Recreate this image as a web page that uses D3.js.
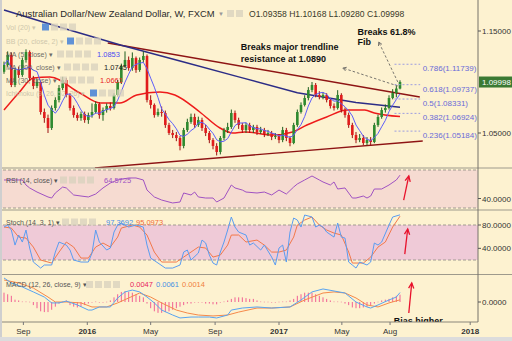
<!DOCTYPE html>
<html>
<head>
<meta charset="utf-8">
<script src="https://cdn.jsdelivr.net/npm/d3@7"></script>
<style>
  body { margin: 0; background: #fdf2d0; }
  svg { display: block; font-family: "Liberation Sans", Arial, sans-serif; }
</style>
</head>
<body>
<div id="chart"></div>
<script>
// ---- data ----
const firstWeek = new Date(2015, 6, 26);
const firstOpen = 1.1100;
const closes = [1.1167,1.1265,1.0971,1.1118,1.1069,1.1216,1.1294,1.1039,1.0961,1.1000,
  1.0706,1.0647,1.0549,1.0745,1.0824,1.0941,1.1020,1.0873,1.0745,1.0676,
  1.0647,1.0686,1.0627,1.0676,1.0706,1.0784,1.0676,1.0725,1.0765,1.0745,
  1.0873,1.1000,1.1157,1.1216,1.1137,1.1235,1.1118,1.1216,1.1255,1.0824,
  1.0775,1.0676,1.0706,1.0696,1.0578,1.0500,1.0480,1.0451,1.0373,1.0529,
  1.0608,1.0657,1.0578,1.0627,1.0549,1.0500,1.0431,1.0373,1.0314,1.0451,
  1.0529,1.0559,1.0696,1.0627,1.0578,1.0529,1.0578,1.0529,1.0559,1.0510,
  1.0529,1.0490,1.0500,1.0461,1.0471,1.0431,1.0529,1.0451,1.0402,1.0578,
  1.0706,1.0775,1.0843,1.0922,1.0971,1.0873,1.0853,1.0873,1.0824,1.0765,
  1.0745,1.0873,1.0725,1.0676,1.0578,1.0480,1.0431,1.0451,1.0402,1.0431,
  1.0412,1.0578,1.0657,1.0725,1.0745,1.0843,1.0892,1.09358,1.09998];
const highs = [1.1200,1.1300,1.1290,1.1140,1.1150,1.1240,1.1320,1.1310,1.1060,1.1030,
  1.1010,1.0740,1.0680,1.0770,1.0850,1.0970,1.1050,1.1040,1.0890,1.0770,
  1.0700,1.0710,1.0710,1.0700,1.0790,1.0810,1.0800,1.0750,1.0790,1.0800,
  1.0890,1.1020,1.1180,1.1300,1.1250,1.1290,1.1250,1.1240,1.1300,1.1270,
  1.0870,1.0790,1.0740,1.0760,1.0720,1.0600,1.0530,1.0510,1.0470,1.0550,
  1.0640,1.0690,1.0690,1.0660,1.0650,1.0580,1.0520,1.0450,1.0400,1.0470,
  1.0550,1.0600,1.0730,1.0720,1.0650,1.0600,1.0600,1.0600,1.0580,1.0580,
  1.0560,1.0550,1.0530,1.0520,1.0500,1.0490,1.0560,1.0550,1.0470,1.0600,
  1.0730,1.0800,1.0870,1.0950,1.1000,1.0990,1.0910,1.0900,1.0890,1.0840,
  1.0790,1.0920,1.0890,1.0750,1.0700,1.0600,1.0510,1.0490,1.0480,1.0460,
  1.0460,1.0600,1.0680,1.0750,1.0780,1.0870,1.0930,1.0960,1.10168];
const lows = [1.1080,1.1150,1.0950,1.0950,1.1040,1.1050,1.1190,1.1010,1.0930,1.0940,
  1.0680,1.0600,1.0500,1.0530,1.0720,1.0800,1.0920,1.0850,1.0720,1.0650,
  1.0620,1.0620,1.0600,1.0590,1.0650,1.0690,1.0640,1.0620,1.0700,1.0720,
  1.0730,1.0860,1.0980,1.1140,1.1110,1.1110,1.1090,1.1100,1.1190,1.0800,
  1.0740,1.0650,1.0660,1.0660,1.0550,1.0480,1.0450,1.0420,1.0330,1.0350,
  1.0510,1.0590,1.0550,1.0560,1.0520,1.0470,1.0400,1.0340,1.0280,1.0290,
  1.0430,1.0500,1.0540,1.0600,1.0540,1.0500,1.0500,1.0500,1.0500,1.0480,
  1.0490,1.0460,1.0470,1.0430,1.0440,1.0400,1.0410,1.0420,1.0370,1.0390,
  1.0560,1.0690,1.0760,1.0820,1.0900,1.0850,1.0830,1.0830,1.0800,1.0740,
  1.0720,1.0730,1.0700,1.0650,1.0550,1.0450,1.0400,1.0410,1.0380,1.0380,
  1.0380,1.0400,1.0560,1.0640,1.0700,1.0730,1.0830,1.0850,1.09280];

// moving averages read as [week index, value]
const ma200 = [[0,1.1706],[16,1.1530],[32,1.1360],[48,1.1206],[64,1.1050],[80,1.0895],[96,1.0800],[108,1.0752]];
const ma30 = [[0,1.0725],[4,1.0892],[8,1.1039],[12.5,1.1049],[20.7,1.0892],[26.2,1.0794],[31.6,1.0794],
  [36.2,1.0873],[42.5,1.0902],[46.6,1.0873],[53.4,1.0706],[58.9,1.0549],[62.4,1.0500],[65.7,1.0510],
  [73.3,1.0480],[78.7,1.0510],[82.6,1.0578],[88,1.0657],[93.5,1.0725],[98.4,1.0725],[101,1.0696],[108,1.0661]];

const rsi = [[0,59.5],[2,59.5],[5,59.5],[6,54.2],[7,51.1],[9,46.8],[12,41.6],[13,40.5],[14,45.8],[16,52.1],
  [17,51.1],[19,43.7],[21,42.6],[23,41.6],[25,44.7],[27,51.1],[29,56.3],[31,59.5],[34,61.6],[36,61.6],
  [38,59.5],[39,48.9],[41,41.6],[43,38.4],[45,36.3],[46,35.3],[48,36.3],[49,45.8],[51,43.7],[52,46.8],
  [53,41.6],[55,40.5],[57,40.5],[58,36.3],[60,40.5],[62,54.2],[63,51.1],[65,48.9],[66,46.8],[69,45.8],
  [71,46.8],[73,43.7],[75,48.9],[77,44.7],[79,52.1],[80,55.3],[82,59.5],[84,63.7],[86,59.5],[87,57.4],
  [89,54.2],[90,57.4],[91,50.0],[93,51.1],[95,40.5],[96,40.5],[98,42.6],[99,40.5],[100,42.6],[101,50.0],
  [103,50.0],[105,54.2],[107,59.5],[108,64.57]];

const stochK = [[0,76.5],[1,79.9],[2,71.4],[3,45.6],[4,62.8],[5,50.8],[6,71.4],[7,40.5],[8,16.5],[9,11.4],
  [10,6.2],[11,11.4],[13,11.4],[14,33.6],[15,50.8],[17,45.6],[18,37.1],[19,19.9],[21,16.5],[23,16.5],
  [24,31.9],[25,71.4],[26,50.8],[28,37.1],[29,40.5],[30,67.9],[31,79.9],[32,83.4],[34,76.5],[36,79.9],
  [38,76.5],[39,45.6],[40,23.3],[42,14.8],[44,6.2],[46,6.2],[48,11.4],[49,33.6],[50,37.1],[51,19.9],
  [53,31.9],[54,54.2],[55,49.1],[56,28.5],[57,14.8],[58,11.4],[59,33.6],[60,50.8],[61,71.4],[62,93.7],
  [63,76.5],[64,67.9],[66,62.8],[67,45.6],[68,49.1],[70,37.1],[71,45.6],[73,25.0],[74,11.4],[75,40.5],
  [76,45.6],[77,16.5],[78,67.9],[79,91.9],[80,88.5],[81,76.5],[82,97.1],[84,93.7],[85,76.5],[86,79.9],
  [87,76.5],[88,67.9],[90,59.3],[91,83.4],[92,59.3],[93,57.6],[94,16.5],[95,11.4],[96,6.2],[97,16.5],
  [99,11.4],[100,16.5],[101,49.1],[102,45.6],[103,50.8],[105,79.9],[106,93.7],[108,97.37]];
const stochD = [[0,76.5],[2,74.8],[4,59.3],[6,57.6],[8,42.2],[10,19.9],[13,14.8],[15,33.6],[17,50.8],[19,42.2],
  [21,23.3],[23,23.3],[25,42.2],[27,49.1],[29,42.2],[31,59.3],[32,74.8],[35,79.9],[37,76.5],[39,62.8],
  [41,33.6],[43,16.5],[47,16.5],[49,25.0],[51,33.6],[53,42.2],[55,40.5],[57,25.0],[59,28.5],[61,45.6],
  [62,62.8],[64,62.8],[66,50.8],[69,54.2],[71,45.6],[73,33.6],[75,33.6],[77,37.1],[79,59.3],[80,79.9],
  [82,88.5],[84,93.7],[86,79.9],[88,71.4],[90,66.2],[92,62.8],[94,33.6],[95,14.8],[98,14.8],[100,25.0],
  [102,42.2],[104,50.8],[106,76.5],[108,95.10]];

const macdLine = [[0,0.0155],[2,0.0123],[5,0.0097],[8,0.0065],[11,0.0032],[13,-0.0006],[15,-0.0006],[17,0.0006],
  [20,-0.0019],[23,-0.0052],[24,-0.0052],[26,-0.0032],[29,-0.0032],[31,0.0026],[33,0.0065],[35,0.0077],
  [37,0.0065],[39,0.0032],[41,-0.0006],[43,-0.0052],[46,-0.0084],[48,-0.0103],[51,-0.0097],[53,-0.0097],
  [56,-0.0097],[58,-0.0103],[61,-0.0084],[62,-0.0052],[65,-0.0039],[69,-0.0032],[73,-0.0039],[78,-0.0032],
  [81,0.0013],[84,0.0065],[87,0.0084],[90,0.0071],[93,0.0058],[96,0.0000],[99,-0.0032],[100,-0.0039],
  [102,-0.0019],[105,0.0013],[107,0.0032],[108,0.0061]];
const macdSignal = [[0,0.0142],[4,0.0123],[8,0.0090],[12,0.0032],[14,0.0000],[17,0.0000],[21,-0.0006],[24,-0.0032],
  [28,-0.0032],[31,-0.0006],[34,0.0026],[37,0.0058],[40,0.0032],[43,-0.0006],[47,-0.0052],[50,-0.0071],
  [53,-0.0084],[57,-0.0090],[61,-0.0084],[64,-0.0065],[69,-0.0039],[73,-0.0039],[78,-0.0032],[82,0.0013],
  [87,0.0058],[90,0.0065],[93,0.0058],[96,0.0026],[99,-0.0019],[102,-0.0032],[105,-0.0006],[108,0.0014]];
const macdHist = [0.006,0.005,0.004,0.0015,0.001,0.0005,0.0005,0.0003,-0.002,-0.004,
  -0.006,-0.0065,-0.0065,-0.005,-0.003,-0.001,0.0003,0.001,-0.002,-0.003,
  -0.0035,-0.003,-0.002,-0.001,-0.0003,0.0005,-0.0003,-0.0005,0.0003,0.001,
  0.003,0.005,0.0065,0.007,0.0065,0.006,0.005,0.004,0.003,-0.001,
  -0.004,-0.006,-0.007,-0.007,-0.0065,-0.006,-0.005,-0.004,-0.003,-0.002,
  -0.001,-0.001,-0.0003,-0.0005,-0.0005,-0.001,-0.001,-0.0015,-0.0015,-0.0005,
  0.0005,0.001,0.002,0.003,0.003,0.003,0.0025,0.002,0.002,0.001,
  0.0005,0.0003,0.0003,-0.0005,-0.0003,0.0003,0.0005,0.0005,0.001,0.002,
  0.004,0.005,0.006,0.006,0.006,0.005,0.004,0.003,0.002,0.001,
  0.0005,0.0005,0.0003,-0.001,-0.002,-0.0035,-0.004,-0.004,-0.0035,-0.003,
  -0.002,-0.001,0.0003,0.001,0.0015,0.002,0.003,0.004,0.0047];

// trendlines: [week index, price]
const upperTrend = [[28.3,1.1382],[113.4,1.0853]];
const lowerTrend = [[24.8,1.0157],[114.2,1.0422]];

const fibRatios = ['0.786','0.618','0.5','0.382','0.236'];
const fibPrices = [1.11739,1.09737,1.08331,1.06924,1.05184];
const fibSpan = [106.5, 113.5];

const priceTicks = [1.15, 1.05];
const tickDates = [new Date(2015,8,1), new Date(2016,0,1), new Date(2016,4,1), new Date(2016,8,1),
  new Date(2017,0,1), new Date(2017,4,1), new Date(2017,7,1), new Date(2018,0,1)];
const tickLabels = ['Sep','2016','May','Sep','2017','May','Aug','2018'];

// ---- layout ----
const W = 512, H = 341, plotL = 3, plotR = 478;
const weekDate = i => new Date(firstWeek.getTime() + i * 7 * 864e5);
const x = d3.scaleTime().domain([firstWeek, weekDate(108)]).range([4, 400]);
const xi = i => x(weekDate(i));
const yMain = d3.scaleLinear().domain([1.05, 1.15]).range([133, 31]);
const yRsi = d3.scaleLinear().domain([30, 70]).range([208, 170]);
const yStoch = d3.scaleLinear().domain([20, 80]).range([260, 225]);
const yMacd = d3.scaleLinear().domain([0, 0.01]).range([302, 286.5]);

const svg = d3.select('#chart').append('svg').attr('width', W).attr('height', H);
svg.append('rect').attr('width', W).attr('height', H).attr('fill', '#fdf2d0');

const defs = svg.append('defs');
function clip(id, y0, y1) {
  defs.append('clipPath').attr('id', id).append('rect')
    .attr('x', plotL).attr('y', y0).attr('width', plotR - plotL).attr('height', y1 - y0);
  return svg.append('g').attr('clip-path', `url(#${id})`);
}

// panel backgrounds
svg.append('rect').attr('x', 0).attr('y', yRsi(70)).attr('width', plotR).attr('height', yRsi(30) - yRsi(70)).attr('fill', '#f6dbd1');
svg.append('rect').attr('x', 0).attr('y', yStoch(80)).attr('width', plotR).attr('height', yStoch(20) - yStoch(80)).attr('fill', '#efcad7');

// ---- main panel ----
const main = clip('cMain', 0, 168);
const line = d3.line().x(d => xi(d[0]));

// trendlines
[upperTrend, lowerTrend].forEach(t => {
  main.append('path').attr('d', line.y(d => yMain(d[1]))(t))
    .attr('fill', 'none').attr('stroke', '#8e1414').attr('stroke-width', 1.4);
});

// MA 200 and MA 30
main.append('path').attr('d', line.y(d => yMain(d[1]))(ma200))
  .attr('fill', 'none').attr('stroke', '#2c2c86').attr('stroke-width', 1.5);
main.append('path').attr('d', d3.line().x(d => xi(d[0])).y(d => yMain(d[1])).curve(d3.curveMonotoneX)(ma30))
  .attr('fill', 'none').attr('stroke', '#ee1b1b').attr('stroke-width', 1.5);

// candles
const candles = closes.map((c, i) => ({ i, o: i ? closes[i - 1] : firstOpen, c, h: highs[i], l: lows[i] }));
const cg = main.append('g');
cg.selectAll('line').data(candles).join('line')
  .attr('x1', d => xi(d.i)).attr('x2', d => xi(d.i))
  .attr('y1', d => yMain(d.h)).attr('y2', d => yMain(d.l))
  .attr('stroke', d => d.c >= d.o ? '#1e5e1e' : '#9c1010').attr('stroke-width', 1);
cg.selectAll('rect').data(candles).join('rect')
  .attr('x', d => xi(d.i) - 1.3).attr('width', 2.6)
  .attr('y', d => yMain(Math.max(d.o, d.c)))
  .attr('height', d => Math.max(1, Math.abs(yMain(d.o) - yMain(d.c))))
  .attr('fill', d => d.c >= d.o ? '#2f8a2f' : '#e01c1c');

// MA 5 from closes
const ma5 = closes.map((c, i) => [i, d3.mean(closes.slice(Math.max(0, i - 4), i + 1))]);
main.append('path').attr('d', line.y(d => yMain(d[1]))(ma5))
  .attr('fill', 'none').attr('stroke', '#5d5dfa').attr('stroke-width', 1);

// fib levels
fibPrices.forEach((p, k) => {
  main.append('line').attr('x1', xi(fibSpan[0])).attr('x2', xi(fibSpan[1]))
    .attr('y1', yMain(p)).attr('y2', yMain(p))
    .attr('stroke', '#9d9de0').attr('stroke-width', 1).attr('stroke-dasharray', '2,2');
  main.append('text').attr('x', xi(fibSpan[1]) + 2.5).attr('y', yMain(p) + 7)
    .attr('font-size', 8).attr('fill', '#6a6ad8')
    .text(`${fibRatios[k]}(${p.toFixed(5)})`);
});

// dashed annotation arrows
function dashedArrow(g, from, to, ys) {
  const x1 = xi(from[0]), y1 = ys(from[1]), x2 = xi(to[0]), y2 = ys(to[1]);
  g.append('line').attr('x1', x1).attr('y1', y1).attr('x2', x2).attr('y2', y2)
    .attr('stroke', '#555').attr('stroke-width', 0.8).attr('stroke-dasharray', '2.5,2');
  const a = Math.atan2(y1 - y2, x1 - x2), L = 4;
  g.append('path').attr('d', `M${x2 + L * Math.cos(a + 0.5)},${y2 + L * Math.sin(a + 0.5)}L${x2},${y2}L${x2 + L * Math.cos(a - 0.5)},${y2 + L * Math.sin(a - 0.5)}`)
    .attr('fill', 'none').attr('stroke', '#555').attr('stroke-width', 0.8);
}
dashedArrow(main, [107.4, 1.0961], [92.4, 1.1137], yMain);
dashedArrow(main, [107.4, 1.1000], [102.2, 1.1392], yMain);

// annotation texts
const notes = [
  { i: 64.6, p: 1.1314, t: 'Breaks major trendline' },
  { i: 64.6, p: 1.1196, t: 'resistance at 1.0890' },
  { i: 96.4, p: 1.1461, t: 'Breaks 61.8%' },
  { i: 96.4, p: 1.1363, t: 'Fib' }
];
main.selectAll('.note').data(notes).join('text').attr('class', 'note')
  .attr('x', d => xi(d.i)).attr('y', d => yMain(d.p))
  .attr('font-size', 9).attr('font-weight', 'bold').attr('fill', '#111').text(d => d.t);

// header and indicator legend rows
function buttons(g, x0, y0, n, blue) {
  for (let k = 0; k < n; k++) {
    g.append('rect').attr('x', x0 + k * 9).attr('y', y0 - 3.5).attr('width', 7).attr('height', 7)
      .attr('fill', k === 0 && blue ? '#4f86d6' : '#d9d2be').attr('opacity', k === 0 && blue ? 0.9 : 0.8);
  }
}
const hdr = svg.append('g');
hdr.append('text').attr('x', 16).attr('y', 17).attr('font-size', 9.4).attr('fill', '#2a2a2a')
  .text('Australian Dollar/New Zealand Dollar, W, FXCM');
hdr.append('text').attr('x', 218).attr('y', 16).attr('font-size', 6).attr('fill', '#999').text('▼');
buttons(hdr, 227, 13.5, 2, false);
hdr.append('text').attr('x', 249).attr('y', 17).attr('font-size', 8.6).attr('fill', '#3a3a2a')
  .text('O1.09358 H1.10168 L1.09280 C1.09998');

const rows = [
  { y: 27, t: 'Vol (20)', bx: 42, n: 4, blue: true, fade: true },
  { y: 41, t: 'BB (20, close, 2)', bx: 67, n: 4, blue: true, fade: true },
  { y: 54, t: 'MA (5, close)', bx: 57, n: 4, val: '1.0853', vx: 97, vc: '#4c4cf0' },
  { y: 67, t: 'MA (200, close)', bx: 64, n: 4, val: '1.0745', vx: 104, vc: '#222' },
  { y: 80, t: 'MA (30, close)', bx: 60, n: 4, val: '1.0661', vx: 100, vc: '#e82020' },
  { y: 93, t: 'Ichimoku (9, 26, 52, 26)', bx: 90, n: 4, blue: true, fade: true }
];
rows.forEach(r => {
  hdr.append('text').attr('x', 6).attr('y', r.y + 2.5).attr('font-size', 7)
    .attr('fill', r.fade ? '#c4bca4' : '#555').attr('opacity', r.fade ? 0.8 : 0.85).text(r.t + ' ▾');
  buttons(hdr, r.bx, r.y, r.n, r.blue);
  if (r.val) hdr.append('text').attr('x', r.vx).attr('y', r.y + 2.5).attr('font-size', 7.5).attr('fill', r.vc).text(r.val);
});

// ---- RSI panel ----
const rsiG = clip('cRsi', 168, 210);
[70, 30].forEach(v => rsiG.append('line').attr('x1', plotL).attr('x2', plotR).attr('y1', yRsi(v)).attr('y2', yRsi(v))
  .attr('stroke', '#a09a90').attr('stroke-dasharray', '3,2'));
rsiG.append('path').attr('d', line.y(d => yRsi(d[1]))(rsi)).attr('fill', 'none').attr('stroke', '#a052c2').attr('stroke-width', 1);

// ---- Stoch panel ----
const stG = clip('cStoch', 210, 274.5);
[80, 20].forEach(v => stG.append('line').attr('x1', plotL).attr('x2', plotR).attr('y1', yStoch(v)).attr('y2', yStoch(v))
  .attr('stroke', '#a09a90').attr('stroke-dasharray', '3,2'));
stG.append('path').attr('d', line.y(d => yStoch(d[1]))(stochD)).attr('fill', 'none').attr('stroke', '#f2784a').attr('stroke-width', 1);
stG.append('path').attr('d', line.y(d => yStoch(d[1]))(stochK)).attr('fill', 'none').attr('stroke', '#5a9cf0').attr('stroke-width', 1);

// ---- MACD panel ----
const mG = clip('cMacd', 275, 322);
mG.selectAll('rect').data(macdHist).join('rect')
  .attr('x', (v, i) => xi(i) - 0.5).attr('width', 1)
  .attr('y', v => Math.min(yMacd(v), yMacd(0)))
  .attr('height', v => Math.max(1, Math.abs(yMacd(v) - yMacd(0))))
  .attr('fill', '#f0508c').attr('opacity', v => Math.abs(v) < 0.0008 ? 0.5 : 0.9);
mG.append('path').attr('d', line.y(d => yMacd(d[1]))(macdSignal)).attr('fill', 'none').attr('stroke', '#f5894a').attr('stroke-width', 1);
mG.append('path').attr('d', line.y(d => yMacd(d[1]))(macdLine)).attr('fill', 'none').attr('stroke', '#58a4f0').attr('stroke-width', 1);
mG.append('text').attr('x', xi(106.3)).attr('y', yMacd(-0.0142)).attr('font-size', 9).attr('font-weight', 'bold').attr('fill', '#111').text('Bias higher');

// red arrows
function redArrow(g, from, to, ys) {
  const x1 = xi(from[0]), y1 = ys(from[1]), x2 = xi(to[0]), y2 = ys(to[1]);
  g.append('line').attr('x1', x1).attr('y1', y1).attr('x2', x2).attr('y2', y2).attr('stroke', '#e8122c').attr('stroke-width', 1.3);
  const a = Math.atan2(y1 - y2, x1 - x2), L = 6;
  g.append('path').attr('d', `M${x2 + L * Math.cos(a + 0.45)},${y2 + L * Math.sin(a + 0.45)}L${x2},${y2}L${x2 + L * Math.cos(a - 0.45)},${y2 + L * Math.sin(a - 0.45)}`)
    .attr('fill', 'none').attr('stroke', '#e8122c').attr('stroke-width', 1.3);
}
redArrow(rsiG, [109, 38.4], [110.4, 63.7], yRsi);
redArrow(stG, [109.3, 30.2], [110.1, 73.1], yStoch);
redArrow(mG, [110.4, -0.0071], [111.2, 0.0123], yMacd);

// indicator legends
function legend(y, t, bx, vals, gap) {
  svg.append('text').attr('x', 6).attr('y', y + 2.5).attr('font-size', 7).attr('fill', '#555').text(t + ' ▾');
  buttons(svg, bx, y, 4, false);
  let vx = bx + 44;
  vals.forEach(v => {
    svg.append('text').attr('x', vx).attr('y', y + 2.5).attr('font-size', 7.5).attr('fill', v[1]).text(v[0]);
    vx += gap;
  });
}
legend(180, 'RSI (14, close)', 60, [['64.5725', '#a052c2']], 30);
legend(222, 'Stoch (14, 3, 1)', 62, [['97.3692', '#4a8ee8'], ['95.0973', '#f06a3a']], 30);
legend(284.5, 'MACD (12, 26, close, 9)', 86, [['0.0047', '#e8245e'], ['0.0061', '#4a90e2'], ['0.0014', '#f08040']], 26);

// ---- frame ----
[168, 210, 274.5].forEach(y => svg.append('line').attr('x1', 0).attr('x2', W).attr('y1', y).attr('y2', y).attr('stroke', '#9e9a8c'));
svg.append('line').attr('x1', 0).attr('x2', plotR).attr('y1', 322).attr('y2', 322).attr('stroke', '#8a867a');
svg.append('line').attr('x1', plotR).attr('x2', plotR).attr('y1', 0).attr('y2', 322).attr('stroke', '#77736a');
svg.append('rect').attr('x', 0).attr('y', 0).attr('width', 2).attr('height', H).attr('fill', '#cfcfcf');
svg.append('rect').attr('x', 0).attr('y', 337).attr('width', W).attr('height', 4).attr('fill', '#dcdcdc');

// right axis
const ax = svg.append('g').attr('font-size', 8).attr('fill', '#333');
function rtick(y, t) {
  ax.append('line').attr('x1', plotR).attr('x2', plotR + 3).attr('y1', y).attr('y2', y).attr('stroke', '#555');
  ax.append('text').attr('x', plotR + 4).attr('y', y + 3).text(t);
}
priceTicks.forEach(p => rtick(yMain(p), p.toFixed(5)));
rtick(yRsi(40), '40.0000');
rtick(yStoch(80), '80.0000');
rtick(yStoch(40), '40.0000');
rtick(yMacd(0), '0.0000');

// last price box
const lastY = yMain(closes[closes.length - 1]);
svg.append('rect').attr('x', plotR + 1).attr('y', lastY - 5.5).attr('width', W - plotR - 1).attr('height', 11).attr('fill', '#3b7a33');
svg.append('text').attr('x', plotR + 4).attr('y', lastY + 3).attr('font-size', 8).attr('fill', '#fff').text(closes[closes.length - 1].toFixed(5));

// date axis
tickDates.forEach((d, k) => {
  svg.append('line').attr('x1', x(d)).attr('x2', x(d)).attr('y1', 322).attr('y2', 325).attr('stroke', '#777');
  svg.append('text').attr('x', x(d)).attr('y', 334).attr('text-anchor', 'middle').attr('font-size', 8)
    .attr('font-weight', /^\d/.test(tickLabels[k]) ? 'bold' : 'normal').attr('fill', '#333').text(tickLabels[k]);
});
</script>
</body>
</html>
